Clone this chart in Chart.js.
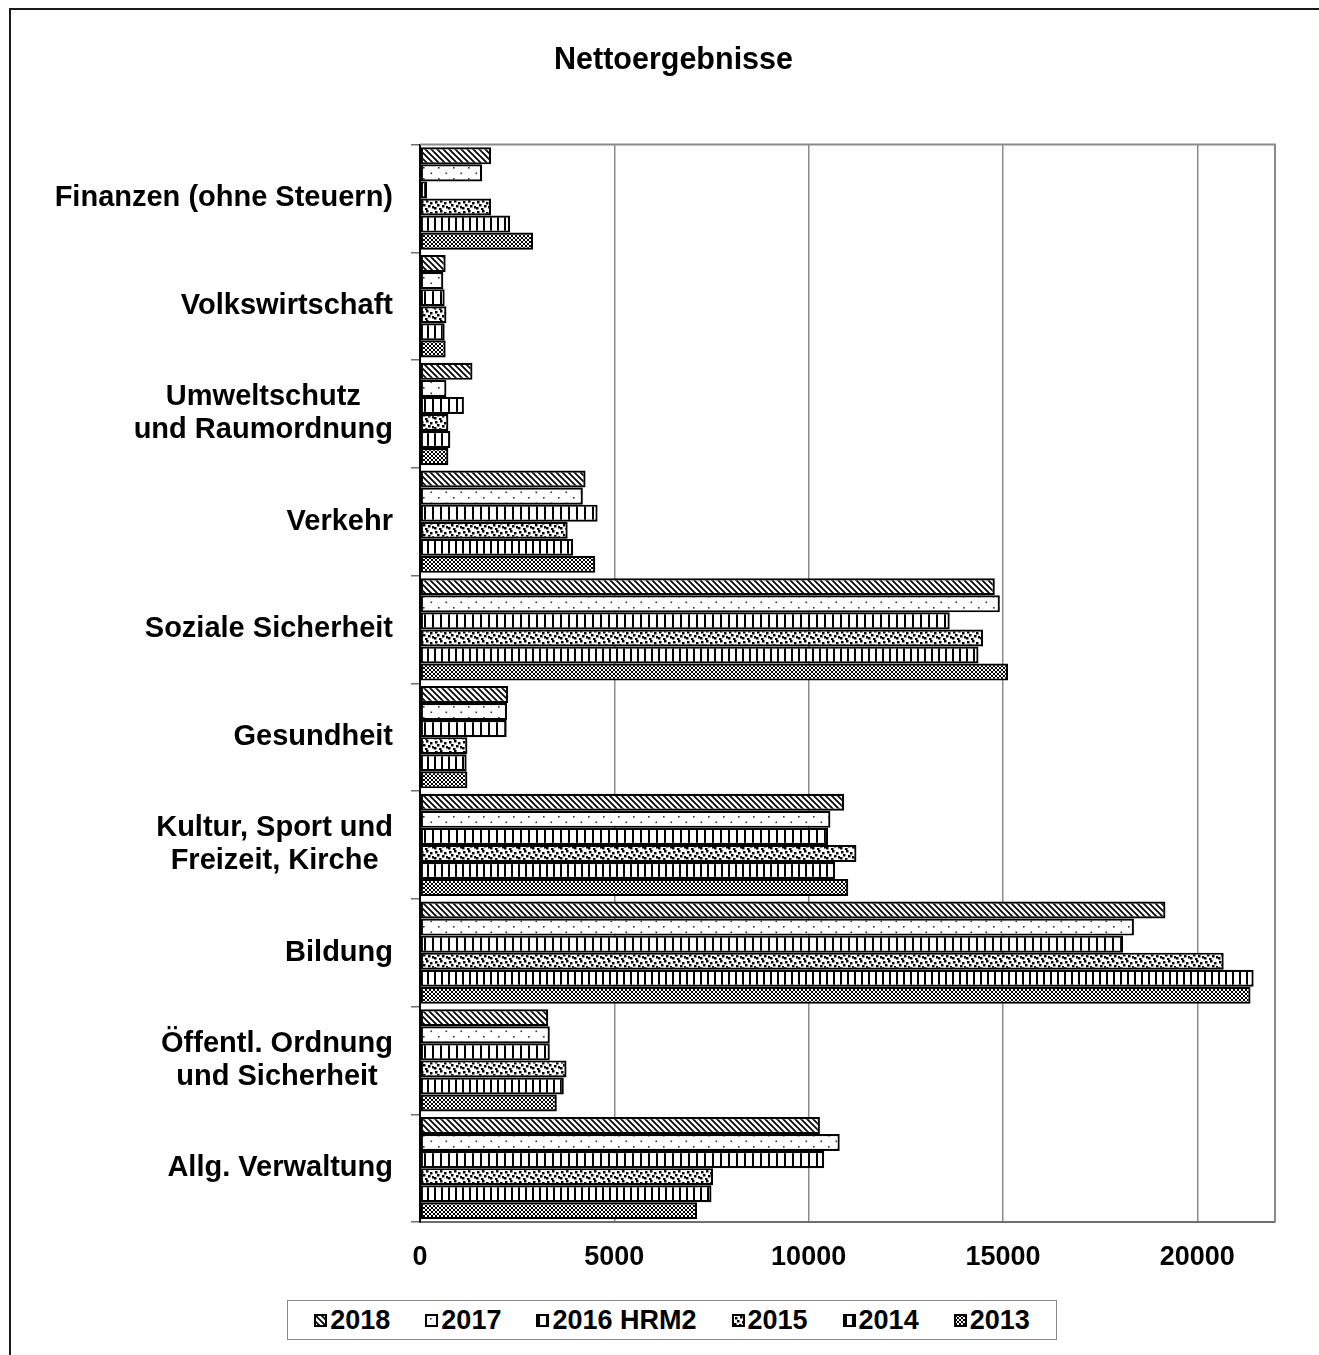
<!DOCTYPE html>
<html lang="de">
<head>
<meta charset="utf-8">
<title>Nettoergebnisse</title>
<script src="https://cdn.jsdelivr.net/npm/chart.js@4.4.1/dist/chart.umd.min.js"></script>
<style>
  html, body { margin: 0; padding: 0; background: #fff; }
  body { width: 1319px; height: 1355px; position: relative; overflow: hidden;
         font-family: 'Liberation Sans', Arial, sans-serif; }
  #frame { position: absolute; left: 9px; top: 8px; width: 1400px; height: 1400px;
           border: 2px solid #1a1a1a; box-sizing: border-box; pointer-events: none; }
  #chart { position: absolute; left: 0; top: 0; }
  #legend { position: absolute; left: 287px; top: 1300px; width: 770px; height: 40px;
            box-sizing: border-box; border: 1.5px solid #8a8a8a; background: #fff;
            display: flex; align-items: center; justify-content: center; gap: 35px;
            font-weight: bold; font-size: 27px; color: #000; }
  #legend .item { display: flex; align-items: center; white-space: nowrap; }
  #legend .sw { width: 13px; height: 13px; border: 2px solid #000; box-sizing: border-box;
                margin-right: 3px; background-repeat: repeat; }
</style>
</head>
<body>
<canvas id="chart" width="1319" height="1355"></canvas>
<div id="frame"></div>
<div id="legend"></div>
<script>
// Functional areas (top to bottom), each label split into its display lines
const categories = [
  ['Finanzen (ohne Steuern)'],
  ['Volkswirtschaft'],
  ['Umweltschutz', 'und Raumordnung'],
  ['Verkehr'],
  ['Soziale Sicherheit'],
  ['Gesundheit'],
  ['Kultur, Sport und', 'Freizeit, Kirche'],
  ['Bildung'],
  ['Öffentl. Ordnung', 'und Sicherheit'],
  ['Allg. Verwaltung']
];

const seriesNames = ['2018', '2017', '2016 HRM2', '2015', '2014', '2013'];

// Net results per area and year
const values2018 = [1830, 660, 1350, 4260, 14790, 2270, 10910, 19180, 3300, 10290];
const values2017 = [1600, 600, 680, 4190, 14920, 2240, 10560, 18370, 3340, 10800];
const values2016 = [180, 635, 1130, 4570, 13630, 2230, 10500, 18090, 3340, 10400];
const values2015 = [1830, 680, 730, 3800, 14490, 1220, 11230, 20680, 3770, 7540];
const values2014 = [2320, 635, 780, 3940, 14370, 1200, 10680, 21450, 3700, 7500];
const values2013 = [2910, 660, 730, 4510, 15130, 1220, 11020, 21370, 3520, 7130];

// Value axis
const xAxisMax = 22000;
const xTickValues = [0, 5000, 10000, 15000, 20000];

const FONT = "'Liberation Sans', Arial, sans-serif";

// ---- fill patterns (black on white tiles) ----
function makeTile(w, h, draw) {
  const c = document.createElement('canvas');
  c.width = w; c.height = h;
  const g = c.getContext('2d');
  g.fillStyle = '#fff';
  g.fillRect(0, 0, w, h);
  g.fillStyle = '#000';
  g.strokeStyle = '#000';
  draw(g, w, h);
  return c;
}

const tiles = [
  // 2018: diagonal stripes
  makeTile(6, 6, (g) => {
    g.lineWidth = 1.7;
    g.beginPath();
    g.moveTo(-1, -1); g.lineTo(7, 7);
    g.moveTo(-1, 5); g.lineTo(1, 7);
    g.moveTo(5, -1); g.lineTo(7, 1);
    g.stroke();
  }),
  // 2017: sparse dots
  makeTile(15, 11, (g) => {
    g.fillStyle = '#333';
    g.fillRect(3, 2, 1.6, 1.6);
    g.fillRect(10.5, 7.5, 1.6, 1.6);
  }),
  // 2016 HRM2: vertical stripes
  makeTile(8, 8, (g) => {
    g.fillRect(0, 0, 2, 8);
  }),
  // 2015: confetti
  makeTile(14, 10, (g) => {
    const pts = [[1, 1], [6, 0], [10, 2], [3, 4], [8, 5], [12, 6], [0, 7], [5, 8]];
    pts.forEach(p => g.fillRect(p[0], p[1], 2.5, 2.5));
  }),
  // 2014: vertical stripes
  makeTile(7, 8, (g) => {
    g.fillRect(0, 0, 2, 8);
  }),
  // 2013: fine diagonal crosshatch
  makeTile(4, 4, (g) => {
    g.lineWidth = 1;
    g.beginPath();
    g.moveTo(0, 0); g.lineTo(4, 4);
    g.moveTo(4, 0); g.lineTo(0, 4);
    g.stroke();
  })
];

const ctx = document.getElementById('chart').getContext('2d');
const patterns = tiles.map(t => ctx.createPattern(t, 'repeat'));
const seriesValues = [values2018, values2017, values2016, values2015, values2014, values2013];

// HTML legend with pattern swatches
const legendEl = document.getElementById('legend');
seriesNames.forEach((name, i) => {
  const item = document.createElement('div');
  item.className = 'item';
  const sw = document.createElement('span');
  sw.className = 'sw';
  sw.style.backgroundImage = 'url(' + tiles[i].toDataURL() + ')';
  const tx = document.createElement('span');
  tx.textContent = name;
  item.appendChild(sw);
  item.appendChild(tx);
  legendEl.appendChild(item);
});

// Category labels: block right-aligned at the axis, lines centred inside the block
const categoryLabels = {
  id: 'categoryLabels',
  afterDraw(chart) {
    const ys = chart.scales.y;
    const g = chart.ctx;
    g.save();
    g.font = 'bold 29px ' + FONT;
    g.fillStyle = '#000';
    g.textAlign = 'center';
    g.textBaseline = 'middle';
    const right = ys.right - 27;
    const lineH = 33;
    categories.forEach((lines, i) => {
      const yc = ys.getPixelForValue(i);
      const maxW = Math.max(...lines.map(l => g.measureText(l).width));
      const cx = right - maxW / 2;
      lines.forEach((l, j) => {
        g.fillText(l, cx, yc + (j - (lines.length - 1) / 2) * lineH);
      });
    });
    g.restore();
  }
};

// Grey frame on top and right of the plot area
const plotFrame = {
  id: 'plotFrame',
  beforeDatasetsDraw(chart) {
    const a = chart.chartArea;
    const g = chart.ctx;
    g.save();
    g.strokeStyle = '#8a8a8a';
    g.lineWidth = 2;
    g.beginPath();
    g.moveTo(a.left, a.top);
    g.lineTo(a.right, a.top);
    g.lineTo(a.right, a.bottom);
    g.stroke();
    g.restore();
  }
};

Chart.defaults.font.family = FONT;
Chart.defaults.color = '#000';

new Chart(ctx, {
  type: 'bar',
  data: {
    labels: categories.map(l => l.join(' ')),
    datasets: seriesNames.map((name, i) => ({
      label: name,
      data: seriesValues[i],
      backgroundColor: patterns[i],
      borderColor: '#000',
      borderWidth: 2.2,
      borderSkipped: false,
      categoryPercentage: 0.95,
      barPercentage: 1.0
    }))
  },
  options: {
    indexAxis: 'y',
    responsive: false,
    animation: false,
    layout: { padding: { left: 72, right: 44, top: 0, bottom: 73 } },
    plugins: {
      legend: { display: false },
      tooltip: { enabled: false },
      title: {
        display: true,
        text: 'Nettoergebnisse',
        color: '#000',
        font: { size: 30.5, weight: 'bold' },
        padding: { top: 42, bottom: 66 }
      }
    },
    scales: {
      x: {
        type: 'linear',
        min: 0,
        max: xAxisMax,
        afterFit(scale) { scale.height = 60; },
        afterBuildTicks(scale) { scale.ticks = xTickValues.map(v => ({ value: v })); },
        ticks: {
          font: { size: 27, weight: 'bold' },
          color: '#000',
          padding: 19,
          maxRotation: 0,
          autoSkip: false,
          callback: (v) => String(v)
        },
        grid: { color: '#8c8c8c', lineWidth: 1.5, drawTicks: false },
        border: { display: true, color: '#6e6e6e', width: 2 }
      },
      y: {
        type: 'category',
        afterFit(scale) { scale.width = 348; },
        ticks: { display: false },
        grid: {
          offset: true,
          drawOnChartArea: false,
          drawTicks: true,
          tickLength: 9,
          color: '#6e6e6e',
          lineWidth: 1.5
        },
        border: { display: true, color: '#000', width: 2 }
      }
    }
  },
  plugins: [plotFrame, categoryLabels]
});
</script>
</body>
</html>
